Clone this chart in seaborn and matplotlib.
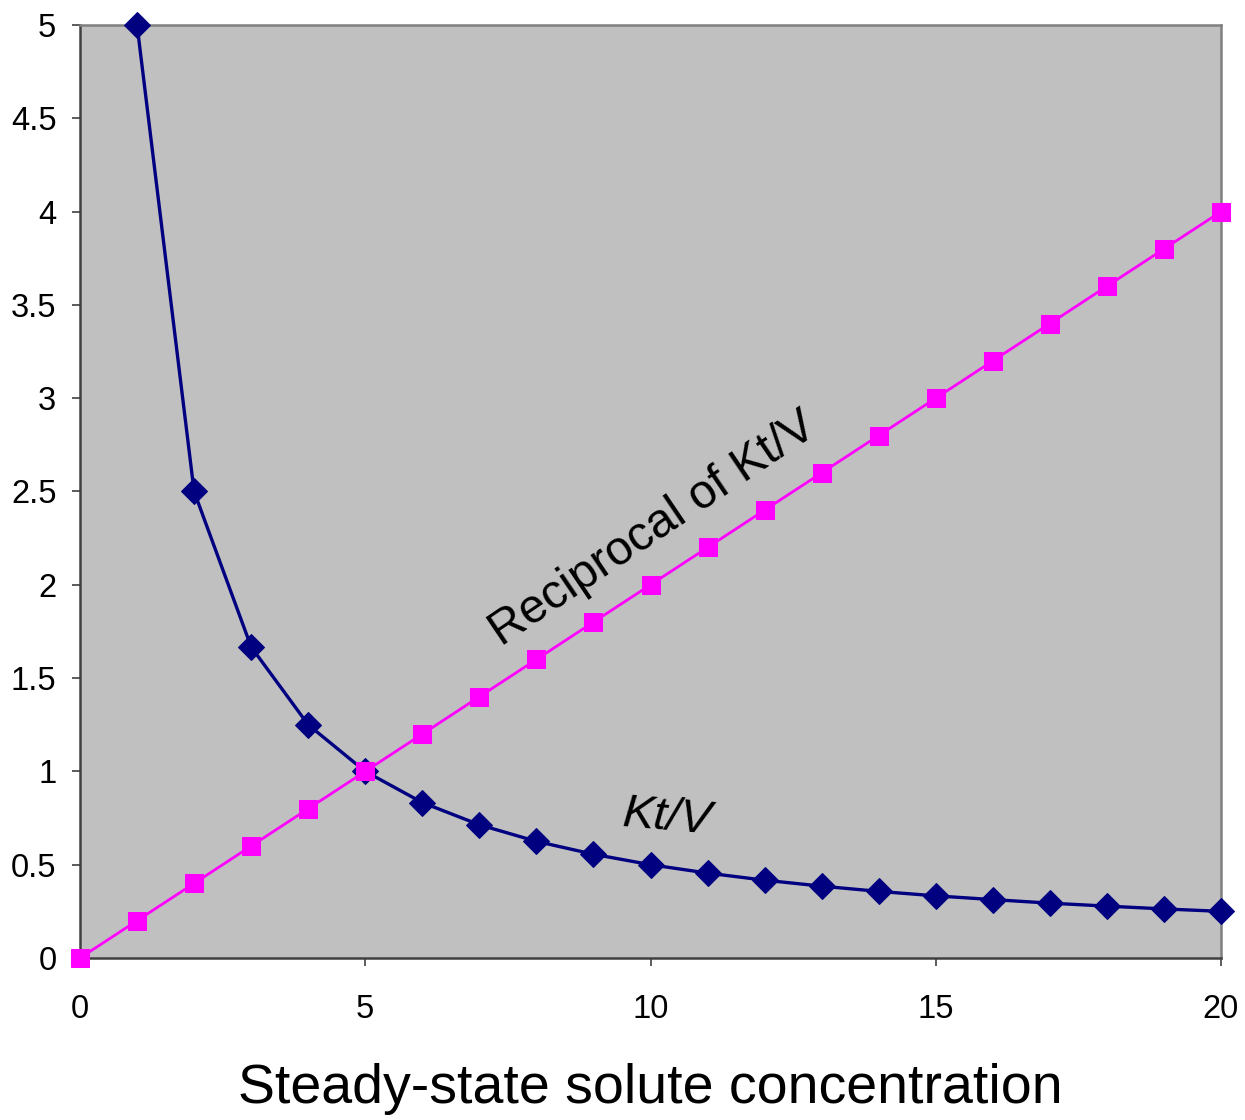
import numpy as np
import pandas as pd
import matplotlib
matplotlib.use("Agg")
import matplotlib.pyplot as plt
import seaborn as sns

# Data
conc_recip = [0, 1, 2, 3, 4, 5, 6, 7, 8, 9, 10, 11, 12, 13, 14, 15, 16, 17, 18, 19, 20]
recip_ktv = [0, 0.2, 0.4, 0.6, 0.8, 1.0, 1.2, 1.4, 1.6, 1.8, 2.0, 2.2, 2.4, 2.6, 2.8,
             3.0, 3.2, 3.4, 3.6, 3.8, 4.0]
conc_ktv = [1, 2, 3, 4, 5, 6, 7, 8, 9, 10, 11, 12, 13, 14, 15, 16, 17, 18, 19, 20]
ktv = [5.0, 2.5, 1.667, 1.25, 1.0, 0.833, 0.714, 0.625, 0.556, 0.5, 0.455, 0.417,
       0.385, 0.357, 0.333, 0.313, 0.294, 0.278, 0.263, 0.25]
x_ticks = [0, 5, 10, 15, 20]
y_ticks = [0, 0.5, 1, 1.5, 2, 2.5, 3, 3.5, 4, 4.5, 5]
y_tick_labels = ["0", "0.5", "1", "1.5", "2", "2.5", "3", "3.5", "4", "4.5", "5"]
x_label = "Steady-state solute concentration"
label_ktv = "Kt/V"
label_recip = "Reciprocal of Kt/V"

sns.set_theme(style="white")
plt.rcParams["font.family"] = ["Liberation Sans", "DejaVu Sans"]
plt.rcParams["text.color"] = "black"
plt.rcParams["axes.labelcolor"] = "black"

df_ktv = pd.DataFrame({"x": conc_ktv, "y": ktv})
df_rec = pd.DataFrame({"x": conc_recip, "y": recip_ktv})

fig = plt.figure(figsize=(12.45, 11.2), dpi=100)
ax = fig.add_axes([80/1245, 1 - 958/1120, (1221-80)/1245, (958-25)/1120])
ax.set_facecolor("#C0C0C0")

sns.lineplot(data=df_ktv, x="x", y="y", ax=ax, color="#000080", lw=2.4,
             marker="D", markersize=13.5, markeredgecolor="#000080", clip_on=False, zorder=3)
sns.lineplot(data=df_rec, x="x", y="y", ax=ax, color="#FF00FF", lw=2.0,
             marker="s", markersize=12.5, markeredgecolor="#FF00FF", clip_on=False, zorder=4)

ax.set_xlim(0, 20)
ax.set_ylim(0, 5)
ax.set_xticks(x_ticks)
ax.set_yticks(y_ticks)
ax.set_yticklabels(y_tick_labels)
ax.tick_params(axis="both", labelsize=23.5, labelcolor="black", length=6, width=1.2,
               direction="out", left=True, bottom=True, color="#404040")
ax.tick_params(axis="y", pad=11)
ax.tick_params(axis="x", pad=20)

ax.set_xlabel(x_label, fontsize=40, labelpad=27, color="black")
ax.set_ylabel("")

for side in ["left", "bottom"]:
    ax.spines[side].set_color("#404040")
    ax.spines[side].set_linewidth(1.8)
for side in ["top", "right"]:
    ax.spines[side].set_color("#808080")
    ax.spines[side].set_linewidth(1.8)
    ax.spines[side].set_visible(True)

ax.text(10.29, 0.75, label_ktv, fontsize=34, style="italic", rotation=-5,
        ha="center", va="center", rotation_mode="anchor", color="black")
ax.text(10.05, 2.3, label_recip, fontsize=34.5, rotation=34,
        ha="center", va="center", rotation_mode="anchor", color="black")

fig.savefig("out.png", dpi=100)
